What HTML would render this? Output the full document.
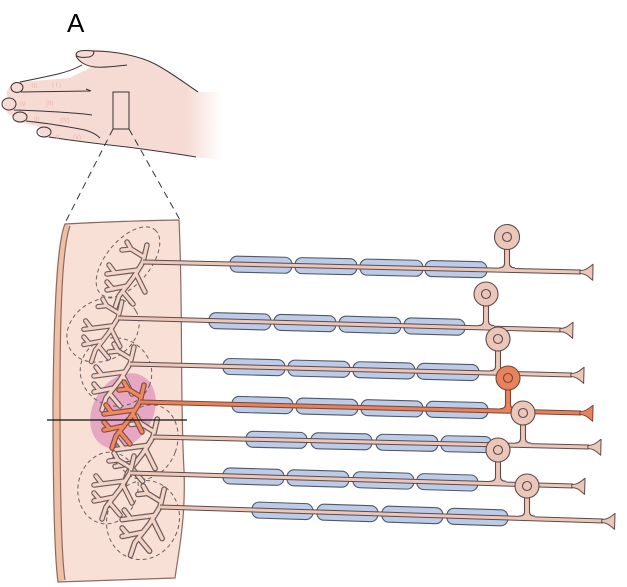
<!DOCTYPE html>
<html>
<head>
<meta charset="utf-8">
<style>
html,body{margin:0;padding:0;background:#fff;}
svg{display:block;}
</style>
</head>
<body>
<svg width="627" height="587" viewBox="0 0 627 587" xmlns="http://www.w3.org/2000/svg">
<defs>
<linearGradient id="hg" gradientUnits="userSpaceOnUse" x1="0" y1="0" x2="222" y2="0">
<stop offset="0" stop-color="#f6dbd4"/>
<stop offset="0.84" stop-color="#f6dbd4"/>
<stop offset="1" stop-color="#ffffff"/>
</linearGradient>
<path id="tr" d="M0,0 L4,-17 M1,-5 L-12,-13 L-16,-20 M-12,-13 L-21,-12 M0,0 L-10,16 L-24,34 M-5,8 L-36,12 M-7,12 L2,30 M-16,24 L-36,28 M-24,34 L-28,46 M-20,30 L-10,42 M-28,11 L-34,3 M-30,27 L-36,20"/>
</defs>

<!-- Letter -->
<text x="67" y="32" font-family="Liberation Sans, sans-serif" font-size="26" fill="#000">A</text>

<!-- Hand -->
<path fill="url(#hg)" d="M76,55 C78,49 90,49 100,50 C120,52 140,57 155,65 C172,74 186,84 200,92 L222,92 L222,160 L195,157 C170,153 140,148 100,143 L50,138 C40,138 36,130 40,127 C28,123 12,123 14,117 C2,112 0,99 8,97 C4,94 10,81 20,82 L70,78 C80,72 88,70 90,67 C82,65 77,60 76,55 Z"/>
<g fill="none" stroke="#3a3232" stroke-width="1">
<path d="M76,55 C76,50 84,50 93,51 C95,53 93,56 89,57 C82,58 77,57 76,55 Z"/>
<path d="M93,51 C115,51 140,56 155,64 C172,73 186,84 198,92"/>
<path d="M76,56 C79,62 86,66 95,67 C105,68 118,66 127,65"/>
<path d="M82,65 C75,69 66,72 58,74 C45,77 30,80 20,82"/>
<ellipse cx="17" cy="87.5" rx="6" ry="5"/>
<path d="M21,92 L90,91 M86,89 L91,91"/>
<ellipse cx="9" cy="104" rx="7" ry="6"/>
<path d="M14,110 C40,111 70,112 92,115"/>
<ellipse cx="20" cy="117" rx="7" ry="5"/>
<path d="M26,121 C45,123 70,127 85,130 C92,132 97,135 100,138"/>
<ellipse cx="44" cy="132" rx="7" ry="5"/>
<path d="M49,137 C75,141 100,144 127,147 C150,150 172,153 196,157"/>
<rect x="113" y="92" width="16" height="37"/>
</g>
<g font-family="Liberation Sans, sans-serif" font-size="6" fill="#e6b4ac">
<text x="32" y="88">III</text><text x="52" y="87">( I )</text>
<text x="20" y="106">IV</text><text x="46" y="105">(II)</text>
<text x="34" y="121">III</text><text x="60" y="122">(IV)</text>
<text x="56" y="139">II</text><text x="73" y="139">(V)</text>
</g>

<!-- dashed projection lines -->
<g stroke="#333" stroke-width="1" stroke-dasharray="7,5" fill="none">
<path d="M113,129 L65,223"/>
<path d="M129,129 L180,220"/>
</g>

<!-- Skin strip -->
<path fill="#f8e0d6" d="M65,224 Q120,221 179,220 C183,300 180,400 184,470 C186,520 178,555 175,578 L60,582 C56,500 54,400 55,300 C56,260 59,240 65,224 Z"/>
<path fill="#efbfa6" d="M65,224 C58,240 54,300 53,400 C53,500 55,560 58,582 L65,580 C62,560 60,500 60,400 C60,300 63,245 70,226 Z"/>
<g fill="none" stroke="#8b6b60" stroke-width="1.2">
<path d="M65,224 Q120,221 179,220 C183,300 180,400 184,470 C186,520 178,555 175,578 L58,582 C55,560 53,500 53,400 C54,300 58,240 65,224 Z"/>
<path d="M70,226 C63,245 60,300 60,400 C60,500 62,560 65,580"/>
</g>

<!-- highlighted receptive field -->
<ellipse cx="123" cy="411" rx="40" ry="30" transform="rotate(-60 123 411)" fill="#e39cc0" opacity="0.85"/>

<!-- dashed receptive field borders -->
<g fill="none" stroke="#6a6060" stroke-width="1" stroke-dasharray="4,3">
<ellipse cx="128" cy="262" rx="42" ry="22" transform="rotate(-50 128 262)"/>
<ellipse cx="103" cy="330" rx="38" ry="30" transform="rotate(-30 103 330)"/>
<ellipse cx="116" cy="372" rx="36" ry="34" transform="rotate(20 116 372)"/>
<ellipse cx="147" cy="442" rx="30" ry="38" transform="rotate(20 147 442)"/>
<ellipse cx="108" cy="488" rx="30" ry="36" transform="rotate(10 108 488)"/>
<ellipse cx="143" cy="520" rx="36" ry="40" transform="rotate(20 143 520)"/>
</g>

<!-- Dendritic trees -->
<g fill="none" stroke-linecap="round" stroke-linejoin="round">
<g transform="translate(143,262)"><use href="#tr" stroke="#6e5a5a" stroke-width="5.5"/><use href="#tr" stroke="#f2d4c8" stroke-width="3.2"/></g>
<g transform="translate(118,318) scale(0.95)"><use href="#tr" stroke="#6e5a5a" stroke-width="5.5"/><use href="#tr" stroke="#f2d4c8" stroke-width="3.2"/></g>
<g transform="translate(130,364)"><use href="#tr" stroke="#6e5a5a" stroke-width="5.5"/><use href="#tr" stroke="#f2d4c8" stroke-width="3.2"/></g>
<g transform="translate(153,437) scale(1.05)"><use href="#tr" stroke="#6e5a5a" stroke-width="5.5"/><use href="#tr" stroke="#f2d4c8" stroke-width="3.2"/></g>
<g transform="translate(130,473)"><use href="#tr" stroke="#6e5a5a" stroke-width="5.5"/><use href="#tr" stroke="#f2d4c8" stroke-width="3.2"/></g>
<g transform="translate(160,507) scale(1.05)"><use href="#tr" stroke="#6e5a5a" stroke-width="5.5"/><use href="#tr" stroke="#f2d4c8" stroke-width="3.2"/></g>
<g transform="translate(140,402)"><use href="#tr" stroke="#8a4a3a" stroke-width="5.5"/><use href="#tr" stroke="#ec8a62" stroke-width="3.2"/></g>
</g>

<!-- Axon rows -->
<g stroke-linejoin="round">
<!-- row 1 -->
<g transform="translate(143,262) rotate(1.31)">
<g fill="#bccbe8" stroke="#4e5868" stroke-width="1.1">
<rect x="87" y="-8" width="62" height="16" rx="7"/><rect x="152" y="-8" width="62" height="16" rx="7"/><rect x="217" y="-8" width="63" height="16" rx="7"/><rect x="282" y="-8" width="62" height="16" rx="7"/>
</g>
<line x1="0" y1="0" x2="438" y2="0" stroke="#5e4a4a" stroke-width="5"/>
<line x1="0" y1="0" x2="438" y2="0" stroke="#ebc7b9" stroke-width="3"/>
<path d="M437,-1.5 C443,-1.5 446,-5 450,-8 L450,8 C446,5 443,1.5 437,1.5 Z" fill="#ebc7b9" stroke="#5e4a4a" stroke-width="1"/>
</g>
<!-- row 2 -->
<g transform="translate(118,318) rotate(1.55)">
<g fill="#bccbe8" stroke="#4e5868" stroke-width="1.1">
<rect x="91" y="-8" width="62" height="16" rx="7"/><rect x="156" y="-8" width="62" height="16" rx="7"/><rect x="221" y="-8" width="62" height="16" rx="7"/><rect x="286" y="-8" width="61" height="16" rx="7"/>
</g>
<line x1="0" y1="0" x2="443" y2="0" stroke="#5e4a4a" stroke-width="5"/>
<line x1="0" y1="0" x2="443" y2="0" stroke="#ebc7b9" stroke-width="3"/>
<path d="M442,-1.5 C448,-1.5 451,-5 455,-8 L455,8 C451,5 448,1.5 442,1.5 Z" fill="#ebc7b9" stroke="#5e4a4a" stroke-width="1"/>
</g>
<!-- row 3 -->
<g transform="translate(130,364) rotate(1.43)">
<g fill="#bccbe8" stroke="#4e5868" stroke-width="1.1">
<rect x="93" y="-8" width="62" height="16" rx="7"/><rect x="158" y="-8" width="62" height="16" rx="7"/><rect x="223" y="-8" width="62" height="16" rx="7"/><rect x="287" y="-8" width="62" height="16" rx="7"/>
</g>
<line x1="0" y1="0" x2="442" y2="0" stroke="#5e4a4a" stroke-width="5"/>
<line x1="0" y1="0" x2="442" y2="0" stroke="#ebc7b9" stroke-width="3"/>
<path d="M441,-1.5 C447,-1.5 450,-5 454,-8 L454,8 C450,5 447,1.5 441,1.5 Z" fill="#ebc7b9" stroke="#5e4a4a" stroke-width="1"/>
</g>
<!-- row 4 (highlighted) -->
<g transform="translate(140,402) rotate(1.43)">
<g fill="#bccbe8" stroke="#4e5868" stroke-width="1.1">
<rect x="92" y="-8" width="61" height="16" rx="7"/><rect x="156" y="-8" width="62" height="16" rx="7"/><rect x="221" y="-8" width="62" height="16" rx="7"/><rect x="286" y="-8" width="62" height="16" rx="7"/>
</g>
<line x1="0" y1="0" x2="441" y2="0" stroke="#7a4434" stroke-width="5"/>
<line x1="0" y1="0" x2="441" y2="0" stroke="#e8825a" stroke-width="3"/>
<path d="M440,-1.5 C446,-1.5 449,-5 453,-8 L453,8 C449,5 446,1.5 440,1.5 Z" fill="#e8825a" stroke="#7a4434" stroke-width="1"/>
</g>
<!-- row 5 -->
<g transform="translate(153,437) rotate(1.31)">
<g fill="#bccbe8" stroke="#4e5868" stroke-width="1.1">
<rect x="93" y="-8" width="61" height="16" rx="7"/><rect x="158" y="-8" width="61" height="16" rx="7"/><rect x="223" y="-8" width="62" height="16" rx="7"/><rect x="288" y="-8" width="51" height="16" rx="7"/>
</g>
<line x1="0" y1="0" x2="436" y2="0" stroke="#5e4a4a" stroke-width="5"/>
<line x1="0" y1="0" x2="436" y2="0" stroke="#ebc7b9" stroke-width="3"/>
<path d="M435,-1.5 C441,-1.5 444,-5 448,-8 L448,8 C444,5 441,1.5 435,1.5 Z" fill="#ebc7b9" stroke="#5e4a4a" stroke-width="1"/>
</g>
<!-- row 6 -->
<g transform="translate(130,473) rotate(1.68)">
<g fill="#bccbe8" stroke="#4e5868" stroke-width="1.1">
<rect x="93" y="-8" width="61" height="16" rx="7"/><rect x="157" y="-8" width="62" height="16" rx="7"/><rect x="223" y="-8" width="61" height="16" rx="7"/><rect x="287" y="-8" width="61" height="16" rx="7"/>
</g>
<line x1="0" y1="0" x2="443" y2="0" stroke="#5e4a4a" stroke-width="5"/>
<line x1="0" y1="0" x2="443" y2="0" stroke="#ebc7b9" stroke-width="3"/>
<path d="M442,-1.5 C448,-1.5 451,-5 455,-8 L455,8 C451,5 448,1.5 442,1.5 Z" fill="#ebc7b9" stroke="#5e4a4a" stroke-width="1"/>
</g>
<!-- row 7 -->
<g transform="translate(160,507) rotate(1.81)">
<g fill="#bccbe8" stroke="#4e5868" stroke-width="1.1">
<rect x="92" y="-8" width="61" height="16" rx="7"/><rect x="157" y="-8" width="61" height="16" rx="7"/><rect x="222" y="-8" width="61" height="16" rx="7"/><rect x="287" y="-8" width="61" height="16" rx="7"/>
</g>
<line x1="0" y1="0" x2="443" y2="0" stroke="#5e4a4a" stroke-width="5"/>
<line x1="0" y1="0" x2="443" y2="0" stroke="#ebc7b9" stroke-width="3"/>
<path d="M442,-1.5 C448,-1.5 451,-5 455,-8 L455,8 C451,5 448,1.5 442,1.5 Z" fill="#ebc7b9" stroke="#5e4a4a" stroke-width="1"/>
</g>
</g>

<!-- Cell bodies with stems -->
<g stroke-width="1.1">
<!-- B1 -->
<path fill="#ebc7b9" d="M504.5,247.5 L504.5,263.3 Q504.5,267.8 499,267.8 L499,271.3 L515,271.3 L515,267.8 Q509.5,267.8 509.5,263.3 L509.5,247.5 Z"/>
<path fill="none" stroke="#5e4a4a" d="M504.5,247.5 L504.5,263.3 Q504.5,267.8 499,267.8 M509.5,247.5 L509.5,263.3 Q509.5,267.8 515,267.8"/>
<circle cx="507" cy="237" r="12.5" fill="#ebc7b9" stroke="#5e4a4a"/>
<circle cx="507" cy="237" r="4.5" fill="none" stroke="#5e4a4a"/>
<!-- B2 -->
<path fill="#ebc7b9" d="M483.5,304 L483.5,321 Q483.5,325.5 478,325.5 L478,329 L494,329 L494,325.5 Q488.5,325.5 488.5,321 L488.5,304 Z"/>
<path fill="none" stroke="#5e4a4a" d="M483.5,304 L483.5,321 Q483.5,325.5 478,325.5 M488.5,304 L488.5,321 Q488.5,325.5 494,325.5"/>
<circle cx="486" cy="294" r="12" fill="#ebc7b9" stroke="#5e4a4a"/>
<circle cx="486" cy="294" r="4.5" fill="none" stroke="#5e4a4a"/>
<!-- B3 -->
<path fill="#ebc7b9" d="M495.5,349 L495.5,366.2 Q495.5,370.7 490,370.7 L490,374.2 L506,374.2 L506,370.7 Q500.5,370.7 500.5,366.2 L500.5,349 Z"/>
<path fill="none" stroke="#5e4a4a" d="M495.5,349 L495.5,366.2 Q495.5,370.7 490,370.7 M500.5,349 L500.5,366.2 Q500.5,370.7 506,370.7"/>
<circle cx="498" cy="339" r="12" fill="#ebc7b9" stroke="#5e4a4a"/>
<circle cx="498" cy="339" r="4.5" fill="none" stroke="#5e4a4a"/>
<!-- B4 orange -->
<path fill="#e8825a" d="M505.5,388 L505.5,404.2 Q505.5,408.7 500,408.7 L500,412.2 L516,412.2 L516,408.7 Q510.5,408.7 510.5,404.2 L510.5,388 Z"/>
<path fill="none" stroke="#7a4434" d="M505.5,388 L505.5,404.2 Q505.5,408.7 500,408.7 M510.5,388 L510.5,404.2 Q510.5,408.7 516,408.7"/>
<circle cx="508" cy="378" r="12" fill="#e8825a" stroke="#7a4434"/>
<circle cx="508" cy="378" r="4.5" fill="none" stroke="#7a4434"/>
<!-- B5 -->
<path fill="#ebc7b9" d="M520.5,423 L520.5,438.5 Q520.5,443 515,443 L515,446.5 L531,446.5 L531,443 Q525.5,443 525.5,438.5 L525.5,423 Z"/>
<path fill="none" stroke="#5e4a4a" d="M520.5,423 L520.5,438.5 Q520.5,443 515,443 M525.5,423 L525.5,438.5 Q525.5,443 531,443"/>
<circle cx="523" cy="413" r="12" fill="#ebc7b9" stroke="#5e4a4a"/>
<circle cx="523" cy="413" r="4.5" fill="none" stroke="#5e4a4a"/>
<!-- B6 -->
<path fill="#ebc7b9" d="M495.5,460 L495.5,476.8 Q495.5,481.3 490,481.3 L490,484.8 L506,484.8 L506,481.3 Q500.5,481.3 500.5,476.8 L500.5,460 Z"/>
<path fill="none" stroke="#5e4a4a" d="M495.5,460 L495.5,476.8 Q495.5,481.3 490,481.3 M500.5,460 L500.5,476.8 Q500.5,481.3 506,481.3"/>
<circle cx="498" cy="450" r="12" fill="#ebc7b9" stroke="#5e4a4a"/>
<circle cx="498" cy="450" r="4.5" fill="none" stroke="#5e4a4a"/>
<!-- B7 -->
<path fill="#ebc7b9" d="M524.5,496 L524.5,511.6 Q524.5,516.1 519,516.1 L519,519.6 L535,519.6 L535,516.1 Q529.5,516.1 529.5,511.6 L529.5,496 Z"/>
<path fill="none" stroke="#5e4a4a" d="M524.5,496 L524.5,511.6 Q524.5,516.1 519,516.1 M529.5,496 L529.5,511.6 Q529.5,516.1 535,516.1"/>
<circle cx="527" cy="486" r="12" fill="#ebc7b9" stroke="#5e4a4a"/>
<circle cx="527" cy="486" r="4.5" fill="none" stroke="#5e4a4a"/>
</g>

<!-- horizontal reference line -->
<line x1="47" y1="420" x2="187" y2="420" stroke="#111" stroke-width="1.2"/>
</svg>
</body>
</html>
